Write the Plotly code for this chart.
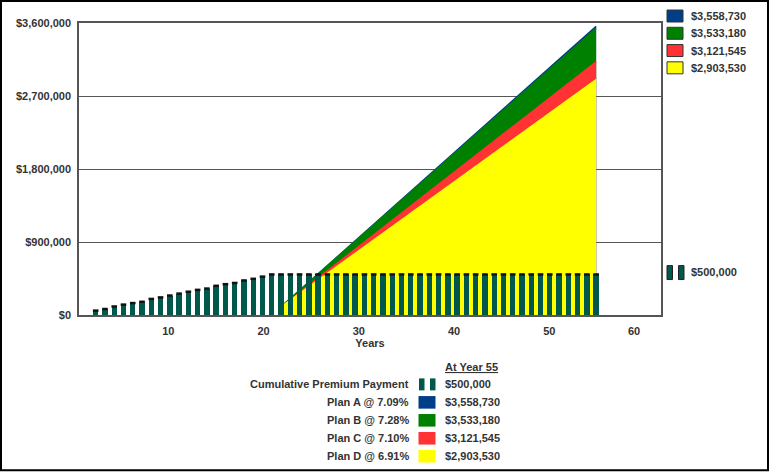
import plotly.graph_objects as go

# ---------------- data ----------------
years = list(range(1, 56))
premium = [54000, 74000, 105000, 128000, 147000, 163000, 198000, 217000, 240000, 264000,
           287000, 310000, 326000, 360000, 380000, 395000, 426000, 446000, 473000, 500000,
           500000, 500000, 500000, 500000, 500000, 500000, 500000, 500000, 500000, 500000,
           500000, 500000, 500000, 500000, 500000, 500000, 500000, 500000, 500000, 500000,
           500000, 500000, 500000, 500000, 500000, 500000, 500000, 500000, 500000, 500000,
           500000, 500000, 500000, 500000, 500000]

plan_years = [21, 55]
plan_a = [100000, 3558730]
plan_b = [100000, 3533180]
plan_c = [100000, 3121545]
plan_d = [100000, 2903530]

plan_names = ["Plan A @ 7.09%", "Plan B @ 7.28%", "Plan C @ 7.10%", "Plan D @ 6.91%"]
plan_values = ["$3,558,730", "$3,533,180", "$3,121,545", "$2,903,530"]
plan_colors = ["#003F87", "#008000", "#FF3333", "#FFFF00"]
premium_label = "Cumulative Premium Payment"
premium_value = "$500,000"

y_ticks = [0, 900000, 1800000, 2700000, 3600000]
y_tick_text = ["$0", "$900,000", "$1,800,000", "$2,700,000", "$3,600,000"]
x_tick_pos = [10, 20, 30, 40, 50, 58.9]
x_tick_text = ["10", "20", "30", "40", "50", "60"]

BAR_COLOR = "#00584C"
TEXT = "#333333"
FONT = "Liberation Sans, Arial, sans-serif"

# ---------------- geometry helpers ----------------
W, H = 769, 472
L, R, T, B = 79, 661, 23, 315.5


def px(x):
    return (x - L) / (R - L)


def py(y):
    return (B - y) / (B - T)


fig = go.Figure()

# base subplot (carries the visible axes)
fig.add_trace(go.Scatter(x=[], y=[], mode="lines", hoverinfo="skip", showlegend=False))

# areas
for vals, col in zip([plan_a, plan_b, plan_c, plan_d], plan_colors):
    fig.add_trace(go.Scatter(
        x=plan_years, y=vals, mode="lines", fill="tozeroy",
        fillcolor=col, line=dict(color=col, width=1.5),
        hoverinfo="skip", showlegend=False, xaxis="x2", yaxis="y2"))

# bars on overlay axes so they sit above the areas
fig.add_trace(go.Bar(
    x=years, y=premium, width=0.58, marker=dict(color=BAR_COLOR, line=dict(width=0)),
    hoverinfo="skip", showlegend=False, xaxis="x3", yaxis="y3"))
fig.add_trace(go.Scatter(
    x=years, y=premium, mode="markers",
    marker=dict(symbol="line-ew", size=4, line=dict(color="#111111", width=2.5)),
    hoverinfo="skip", showlegend=False, xaxis="x3", yaxis="y3"))

axis_font = dict(family=FONT, size=11, color=TEXT, weight="bold")

fig.update_layout(
    width=W, height=H,
    margin=dict(l=L, r=W - R, t=T, b=H - B),
    paper_bgcolor="white", plot_bgcolor="white",
    bargap=0,
    xaxis=dict(range=[0.625, 61.73], tickvals=x_tick_pos, ticktext=x_tick_text,
               showgrid=False, zeroline=False,
               showline=True, mirror=True, linecolor="#555555", linewidth=1.5,
               ticks="", tickfont=axis_font, ticklabelstandoff=5,
               title=dict(text="Years", font=axis_font, standoff=0)),
    yaxis=dict(range=[0, 3600000], tickvals=y_ticks, ticktext=y_tick_text,
               showgrid=True, gridcolor="#555555", gridwidth=1.3, zeroline=False,
               showline=True, mirror=True, linecolor="#555555", linewidth=1.5,
               ticks="", tickfont=axis_font, ticklabelstandoff=4),
    xaxis2=dict(overlaying="x", range=[-0.8, 62.0], visible=False),
    yaxis2=dict(overlaying="y", range=[0, 3600000], visible=False),
    xaxis3=dict(overlaying="x", range=[-0.8, 62.0], visible=False),
    yaxis3=dict(overlaying="y", range=[0, 3600000], visible=False),
)

shapes = []
annotations = []

# outer frame
shapes.append(dict(type="rect", xref="paper", yref="paper",
                   x0=px(1), x1=px(768), y0=py(1), y1=py(471),
                   line=dict(color="black", width=2), fillcolor="rgba(0,0,0,0)", layer="above"))

# right legend (plan boxes)
for i, (col, val) in enumerate(zip(plan_colors, plan_values)):
    yc = 16 + i * 17.3
    shapes.append(dict(type="rect", xref="paper", yref="paper",
                       x0=px(667), x1=px(683), y0=py(yc + 6), y1=py(yc - 6),
                       fillcolor=col, line=dict(color="#333333", width=1)))
    annotations.append(dict(xref="paper", yref="paper", x=px(689), y=py(yc),
                            text=val, showarrow=False, xanchor="left", yanchor="middle",
                            font=axis_font))

# right legend premium
for x0 in (667, 678.5):
    shapes.append(dict(type="rect", xref="paper", yref="paper",
                       x0=px(x0), x1=px(x0 + 5.5), y0=py(280), y1=py(266),
                       fillcolor=BAR_COLOR, line=dict(color="#222222", width=1)))
annotations.append(dict(xref="paper", yref="paper", x=px(689), y=py(272.5),
                        text=premium_value, showarrow=False, xanchor="left", yanchor="middle",
                        font=axis_font))

# bottom legend table
annotations.append(dict(xref="paper", yref="paper", x=px(443), y=py(368),
                        text="<u>At Year 55</u>", showarrow=False, xanchor="left",
                        yanchor="middle", font=axis_font))
rows_y = [385, 403, 421, 439, 457]
labels = [premium_label] + plan_names
values = [premium_value] + plan_values
for k, (yy, lab, val) in enumerate(zip(rows_y, labels, values)):
    annotations.append(dict(xref="paper", yref="paper", x=px(410.5), y=py(yy),
                            text=lab, showarrow=False, xanchor="right", yanchor="middle",
                            font=axis_font))
    annotations.append(dict(xref="paper", yref="paper", x=px(443), y=py(yy),
                            text=val, showarrow=False, xanchor="left", yanchor="middle",
                            font=axis_font))
    if k == 0:
        for x0 in (419, 430):
            shapes.append(dict(type="rect", xref="paper", yref="paper",
                               x0=px(x0), x1=px(x0 + 5.5), y0=py(yy + 6), y1=py(yy - 6),
                               fillcolor=BAR_COLOR, line=dict(width=0)))
    else:
        shapes.append(dict(type="rect", xref="paper", yref="paper",
                           x0=px(418.5), x1=px(435.5), y0=py(yy + 6.3), y1=py(yy - 6.3),
                           fillcolor=plan_colors[k - 1], line=dict(width=0)))

fig.update_layout(shapes=shapes, annotations=annotations)
fig.write_html("out.html")
